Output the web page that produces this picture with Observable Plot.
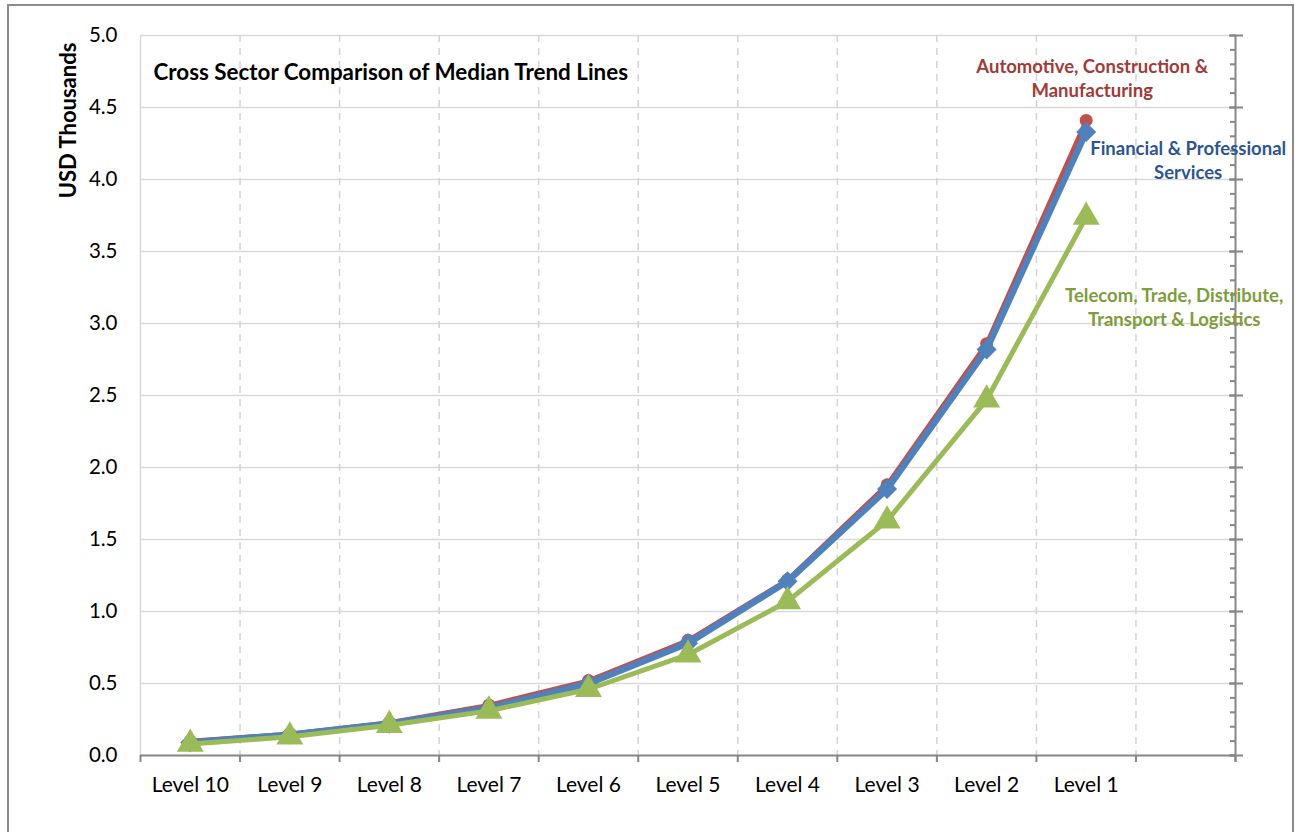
<!DOCTYPE html>
<html>
<head>
<meta charset="utf-8">
<script src="https://cdn.jsdelivr.net/npm/d3@7"></script>
<script src="https://cdn.jsdelivr.net/npm/@observablehq/plot@0.6"></script>
<style>
  body { margin: 0; background: #fff; }
  #wrap { position: relative; width: 1295px; height: 832px; overflow: hidden; background: #fff; }
  #border { position: absolute; left: 7px; top: 4px; width: 1287px; height: 900px; border: 2px solid #8c8c8c; box-sizing: border-box; pointer-events: none; }
  #wrap svg { position: absolute; left: 0; top: 0; }
</style>
</head>
<body>
<div id="wrap"><div id="border"></div></div>
<script>
// ---- data ----
const levels = ["Level 10", "Level 9", "Level 8", "Level 7", "Level 6", "Level 5", "Level 4", "Level 3", "Level 2", "Level 1"];
const automotive = [0.10, 0.15, 0.23, 0.35, 0.52, 0.80, 1.22, 1.88, 2.86, 4.41];
const financial  = [0.09, 0.145, 0.22, 0.33, 0.50, 0.78, 1.21, 1.85, 2.82, 4.33];
const telecom    = [0.08, 0.13, 0.21, 0.31, 0.46, 0.70, 1.07, 1.63, 2.47, 3.74];
const seriesNames = ["Automotive, Construction &\nManufacturing", "Financial & Professional\nServices", "Telecom, Trade, Distribute,\nTransport & Logistics"];
const yTicks = [0, 0.5, 1.0, 1.5, 2.0, 2.5, 3.0, 3.5, 4.0, 4.5, 5.0];
const yMinorTicks = d3.range(0, 51).map(d => d / 10);
const chartTitle = "Cross Sector Comparison of Median Trend Lines";
const yTitle = "USD Thousands";

// ---- styles ----
const styles = [
  {color: "#C0504D", text: "#A23A37", symbol: "circle", r: 6.5, width: 4.5, dx: 6, dy: -43},
  {color: "#4F81BD", text: "#2C5593", symbol: "diamond2", r: 9, width: 6.5, dx: 102, dy: 27},
  {color: "#9BBB59", text: "#7E9D3C", symbol: "triangle", r: 10, width: 5, dx: 88, dy: 89}
];
const seriesValues = [automotive, financial, telecom];

const nCats = levels.length + 1; // one empty slot at the right
const bounds = d3.range(0, nCats + 1);
const centers = levels.map((_, i) => i + 0.5);

const rows = seriesValues.map((vals, s) => vals.map((v, i) => ({series: s, i: i + 0.5, level: levels[i], value: v})));

const font = "Lato, 'Open Sans', sans-serif";

const marks = [
  Plot.ruleY(yTicks.slice(1), {stroke: "#d9d9d9", strokeWidth: 1.5}),
  Plot.ruleX(bounds.slice(1, nCats), {stroke: "#d4d4d4", strokeWidth: 1.5, strokeDasharray: "7,6"}),
  Plot.ruleX([0], {stroke: "#d9d9d9", strokeWidth: 1.5}),
  Plot.ruleY([0], {stroke: "#868686", strokeWidth: 2}),
  Plot.axisX({ticks: bounds, tickSize: 7, tickFormat: () => "", stroke: "#868686", strokeWidth: 2, label: null}),
  Plot.axisX({ticks: centers, tickSize: 0, tickPadding: 22, tickFormat: d => levels[Math.floor(d)], fontSize: 21, fill: "#000", label: null}),
  Plot.axisY({ticks: yTicks, tickSize: 0, tickPadding: 23, tickFormat: d3.format(".1f"), fontSize: 20.5, fill: "#000", label: null}),
  Plot.ruleX([nCats], {stroke: "#868686", strokeWidth: 2, insetBottom: -7}),
  Plot.axisY({anchor: "right", ticks: yTicks, tickSize: 7, tickFormat: () => "", stroke: "#868686", strokeWidth: 2, label: null}),
  Plot.axisY({anchor: "right", ticks: yTicks, tickSize: -7, tickFormat: () => "", stroke: "#868686", strokeWidth: 2, label: null}),
  Plot.axisY({anchor: "right", ticks: yMinorTicks, tickSize: -6, tickFormat: () => "", stroke: "#868686", strokeWidth: 2, label: null})
];

rows.forEach((data, s) => {
  const st = styles[s];
  marks.push(Plot.line(data, {x: "i", y: "value", stroke: st.color, strokeWidth: st.width, strokeLinejoin: "round"}));
  marks.push(Plot.dot(data, {x: "i", y: "value", symbol: () => st.symbol, fill: st.color, r: st.r, stroke: "none"}));
});

rows.forEach((data, s) => {
  const st = styles[s];
  const last = data[data.length - 1];
  marks.push(Plot.text([last], {x: "i", y: "value", text: () => seriesNames[s], dx: st.dx, dy: st.dy,
    fill: st.text, fontWeight: "bold", fontSize: 18.5, lineHeight: 1.3, textAnchor: "middle", lineAnchor: "middle"}));
});

marks.push(Plot.text([chartTitle], {frameAnchor: "top-left", dx: 13, dy: 37, text: d => d, textAnchor: "start", lineAnchor: "middle", fontWeight: "bold", fontSize: 22.4, fill: "#000"}));
marks.push(Plot.text([yTitle], {frameAnchor: "top-left", dx: -72, dy: 85, text: d => d, rotate: -90, textAnchor: "middle", lineAnchor: "middle", fontWeight: "bold", fontSize: 22, fill: "#000"}));

const chart = Plot.plot({
  width: 1295,
  height: 832,
  marginLeft: 140,
  marginRight: 60,
  marginTop: 35,
  marginBottom: 77,
  style: {fontFamily: font, background: "transparent", overflow: "visible"},
  x: {type: "linear", domain: [0, nCats], label: null},
  y: {type: "linear", domain: [0, 5], label: null},
  marks
});
document.getElementById("wrap").appendChild(chart);
</script>
</body>
</html>
